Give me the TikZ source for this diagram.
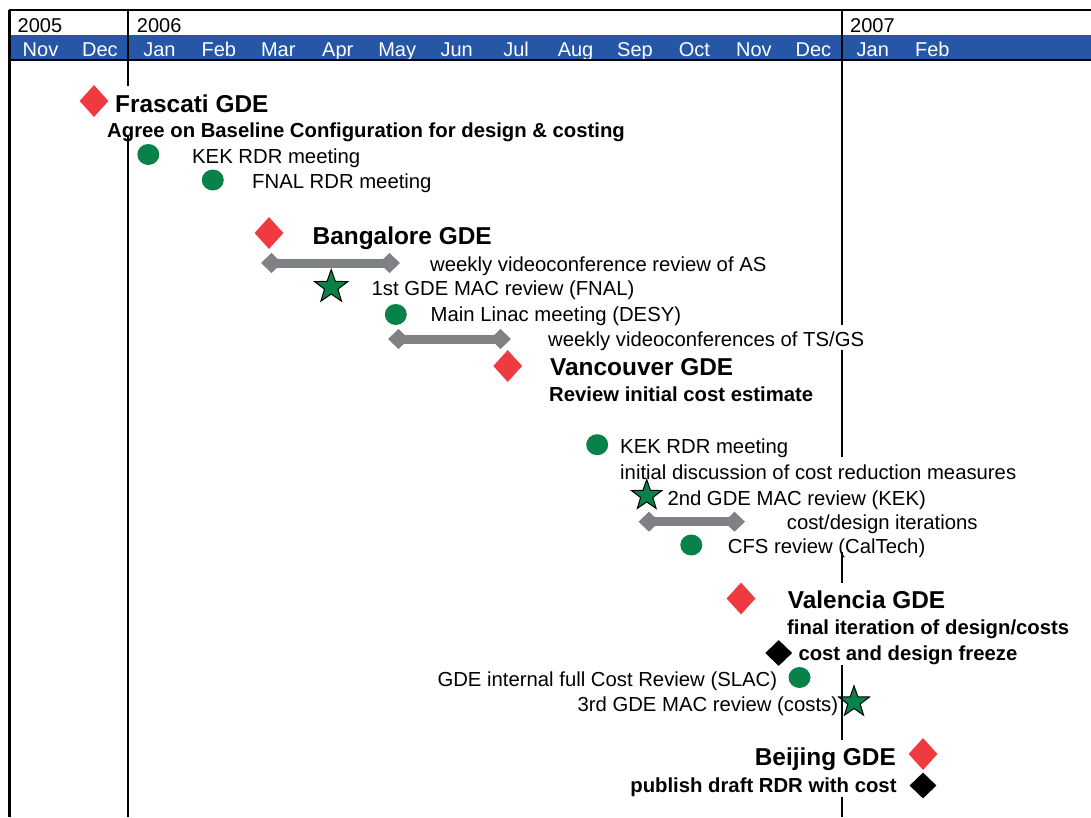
\documentclass[tikz,border=0pt]{standalone}
\usepackage{fontspec}
\setmainfont{Liberation Sans}
\usetikzlibrary{shapes.geometric,arrows.meta}
\definecolor{bandblue}{RGB}{38,87,166}
\definecolor{gdered}{RGB}{239,59,64}
\definecolor{gdegreen}{RGB}{8,130,72}
\definecolor{bargray}{RGB}{128,129,133}
\begin{document}
\begin{tikzpicture}[x=1pt,y=-1pt,
  frame/.style={line width=2.2pt,black},
  lbl/.style={inner sep=0pt,anchor=base west,font=\fontsize{20.3}{24}\selectfont},
  lblr/.style={lbl,anchor=base east},
  bld/.style={lbl,font=\fontsize{20.3}{24}\selectfont\bfseries},
  bldr/.style={bld,anchor=base east},
  ttl/.style={lbl,font=\fontsize{24.4}{28}\selectfont\bfseries},
  ttlr/.style={ttl,anchor=base east},
  month/.style={inner sep=0pt,anchor=base,text=white,font=\fontsize{20}{24}\selectfont},
  year/.style={inner sep=0pt,anchor=base west,font=\fontsize{20}{24}\selectfont},
  reddia/.style={diamond,fill=gdered,inner sep=0pt,minimum width=29pt,minimum height=32pt},
  blkdia/.style={diamond,fill=black,inner sep=0pt,minimum width=27pt,minimum height=26pt},
  gdot/.style={ellipse,fill=gdegreen,inner sep=0pt,minimum width=22pt,minimum height=21pt},
  gstar/.style={star,star points=5,star point ratio=2.5,fill=gdegreen,draw=black,line width=1pt,inner sep=0pt},
  gbar/.style={draw=bargray,line width=9pt,
    {Diamond[length=21pt,width=20pt,line width=0pt]}-{Diamond[length=21pt,width=20pt,line width=0pt]}}
]
\useasboundingbox (0,0) rectangle (1091,817);

% header
\fill[bandblue] (10,35) rectangle (1091,60);
\node[year] (y2005) at (17.5,32.3) {2005};
\node[year] (y2006) at (136.7,32.3) {2006};
\node[year] (y2007) at (850,32.3) {2007};
\begin{scope}
\clip (10,35) rectangle (1091,60);
\foreach \m [count=\i from 0] in {Nov,Dec,Jan,Feb,Mar,Apr,May,Jun,Jul,Aug,Sep,Oct,Nov,Dec,Jan,Feb}
  \node[month] (m\i) at (40.5+59.45*\i,56.7) {\m};
\end{scope}

% Frascati
\node[reddia] (dfras) at (94,101) {};
\node[ttl] (tfras) at (115,112) {Frascati GDE};
\node[bld] (tagree) at (107,137.5) {Agree on Baseline Configuration for design \& costing};
\node[gdot] (ckek1) at (148.3,154.5) {};
\node[lbl] (tkek1) at (192,163.5) {KEK RDR meeting};
\node[gdot] (cfnal) at (212.8,180) {};
\node[lbl] (tfnal) at (252,188.5) {FNAL RDR meeting};

% Bangalore
\node[reddia] (dbang) at (269,233) {};
\node[ttl] (tbang) at (312.5,244.5) {Bangalore GDE};
\coordinate (b1a) at (261,263);
\coordinate (b1b) at (400,263);
\draw[gbar] (b1a) -- (b1b);
\node[lbl] (tvid1) at (430,271.5) {weekly videoconference review of AS};
\node[gstar,minimum size=35pt] (s1) at (331.2,287) {};
\node[lbl] (tmac1) at (371.5,295.7) {1st GDE MAC review (FNAL)};
\node[gdot] (cml) at (395.8,314.5) {};
\node[lbl] (tml) at (430.5,321) {Main Linac meeting (DESY)};
\coordinate (b2a) at (388,339);
\coordinate (b2b) at (511,339);
\draw[gbar] (b2a) -- (b2b);
\node[lbl] (tvid2) at (548,346.7) {weekly videoconferences of TS/GS};

% Vancouver
\node[reddia] (dvan) at (507.7,366) {};
\node[ttl] (tvan) at (550,375.7) {Vancouver GDE};
\node[bld] (trev) at (549,401.7) {Review initial cost estimate};
\node[gdot] (ckek2) at (597.2,444.7) {};
\node[lbl] (tkek2) at (620,453.3) {KEK RDR meeting};
\node[lbl] (tdisc) at (620,479.3) {initial discussion of cost reduction measures};
\node[gstar,minimum size=32pt] (s2) at (646.7,495.5) {};
\node[lbl] (tmac2) at (667.3,505) {2nd GDE MAC review (KEK)};
\coordinate (b3a) at (638.5,521.7);
\coordinate (b3b) at (745,521.7);
\draw[gbar] (b3a) -- (b3b);
\node[lbl] (titer) at (786.7,529.3) {cost/design iterations};
\node[gdot] (ccfs) at (691.3,545) {};
\node[lbl] (tcfs) at (727.7,553.3) {CFS review (CalTech)};

% Valencia
\node[reddia] (dval) at (741,598.5) {};
\node[ttl] (tval) at (787.7,608.3) {Valencia GDE};
\node[bld] (tfinal) at (787,634.3) {final iteration of design/costs};
\node[blkdia] (dfreeze) at (778.7,653) {};
\node[bld] (tfreeze) at (798.3,660) {cost and design freeze};
\node[gdot] (cslac) at (799.5,677.5) {};
\node[lblr] (tslac) at (777.3,686) {GDE internal full Cost Review (SLAC)};
\node[gstar,minimum size=32.5pt] (s3) at (854,702) {};
\node[lblr] (tmac3) at (838.3,711.7) {3rd GDE MAC review (costs)};

% Beijing
\node[reddia] (dbei) at (923,754) {};
\node[ttlr] (tbei) at (896,765.7) {Beijing GDE};
\node[blkdia] (dpub) at (923,785.5) {};
\node[bldr] (tpub) at (896.7,792.3) {publish draft RDR with cost};

% frame and grid lines
\draw[frame] (9,10) -- (1091,10);
\draw[frame] (9.5,10) -- (9.5,817);
\draw[frame] (10,60) -- (1091,60);
\draw[frame] (128,10) -- (128,86);
\draw[frame] (128,136) -- (128,817);
\draw[frame] (841.8,10) -- (841.8,325);
\draw[frame] (841.8,350) -- (841.8,457);
\draw[frame] (841.8,552) -- (841.8,583);
\draw[frame] (841.8,665) -- (841.8,740);
\draw[frame] (841.8,797) -- (841.8,817);
\end{tikzpicture}
\end{document}
